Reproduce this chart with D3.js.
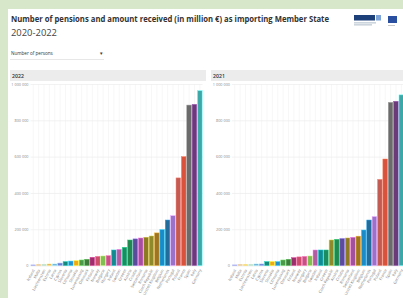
<!DOCTYPE html>
<html>
<head>
<meta charset="utf-8">
<script src="https://cdn.jsdelivr.net/npm/d3@7"></script>
<style>
  html, body { margin: 0; padding: 0; background: #d7e7c9; overflow: hidden; }
  svg { display: block; }
</style>
</head>
<body>
<svg id="chart" width="403" height="298"></svg>
<script>
// ---- data ----
const title = "Number of pensions and amount received (in million €) as importing Member State";
const subtitle = "2020-2022";
const measure = "Number of persons";
const years = ["2022", "2021"];

const countries2022 = ["Iceland", "Malta", "Liechtenstein", "Estonia", "Latvia", "Cyprus", "Slovenia",
  "Lithuania", "Slovakia", "Luxembourg", "Denmark", "Finland", "Norway", "Bulgaria", "Hungary",
  "Ireland", "Sweden", "Greece", "Austria", "Croatia", "Switzerland", "Romania", "Czech Republic",
  "United Kingdom", "Belgium", "Netherlands", "Portugal", "Poland", "France", "Spain", "Italy", "Germany"];
const values2022 = [4000, 7000, 7000, 9000, 9000, 14000, 22000, 25000, 27000, 31000, 35000, 46000,
  51000, 53000, 55000, 86000, 90000, 101000, 141000, 147000, 152000, 156000, 163000, 180000,
  198000, 251000, 275000, 483000, 600000, 884000, 888000, 963000];

const countries2021 = ["Iceland", "Malta", "Estonia", "Liechtenstein", "Latvia", "Cyprus", "Slovenia",
  "Slovakia", "Lithuania", "Luxembourg", "Denmark", "Finland", "Norway", "Hungary", "Bulgaria",
  "Sweden", "Ireland", "Greece", "Czech Republic", "Austria", "Croatia", "Romania", "Switzerland",
  "United Kingdom", "Belgium", "Netherlands", "Portugal", "Poland", "France", "Spain", "Italy", "Germany"];
const values2021 = [4000, 7000, 7000, 7000, 9000, 9000, 22000, 22000, 22000, 31000, 35000, 44000,
  48000, 51000, 53000, 86000, 86000, 86000, 141000, 145000, 149000, 152000, 156000, 162000,
  196000, 251000, 270000, 475000, 587000, 899000, 905000, 940000];

// one colour per country, same in both panels
const palette = ["#7b80cf", "#c99a78", "#8fae98", "#e9a456", "#6ea3d2", "#6d7fd3", "#14897c",
  "#2490cf", "#efa91c", "#4c9a49", "#3e7c3c", "#9a2f6b", "#cc4d6c", "#82bf52", "#c75282",
  "#138a90", "#b25ba2", "#1b8b62", "#21894f", "#5b4b9b", "#a2519c", "#8c7b24", "#8e8a2c",
  "#9c7424", "#1b8bc8", "#216c9b", "#9b72c9", "#c25b52", "#d9523c", "#6b6b6b", "#6b3b79", "#3ca9a8"];

const yTicks = [0, 200000, 400000, 600000, 800000, 1000000];

// ---- drawing ----
const W = 403, H = 298;
const svg = d3.select("#chart");
const font = "'Open Sans', sans-serif";

const color = d3.scaleOrdinal().domain(countries2022).range(palette);
const fmt = d3.formatLocale({ decimal: ",", thousands: " ", grouping: [3], currency: ["", "€"] }).format(",d");

// white card
svg.append("rect").attr("x", 8).attr("y", 9).attr("width", W).attr("height", H)
  .attr("fill", "#fff");

svg.append("text")
  .attr("x", 11).attr("y", 22)
  .attr("font-family", font).attr("font-weight", 700).attr("font-size", 9.6)
  .attr("textLength", 318).attr("lengthAdjust", "spacingAndGlyphs")
  .attr("fill", "#333").text(title);

svg.append("text")
  .attr("x", 11).attr("y", 36)
  .attr("font-family", font).attr("font-size", 9.5)
  .attr("textLength", 46).attr("lengthAdjust", "spacingAndGlyphs")
  .attr("fill", "#444").text(subtitle);

// logos (rough)
const logo = svg.append("g").attr("transform", "translate(354,15)");
logo.append("rect").attr("width", 21).attr("height", 5.5).attr("fill", "#1d3f7a");
logo.append("rect").attr("x", 22).attr("width", 5).attr("height", 5.5).attr("fill", "#7ea4d8");
logo.append("rect").attr("y", 7.5).attr("width", 22).attr("height", 0.8).attr("fill", "#9ab");
logo.append("rect").attr("y", 9.5).attr("width", 18).attr("height", 0.8).attr("fill", "#9ab");
logo.append("rect").attr("x", 34).attr("y", 1).attr("width", 9).attr("height", 7).attr("fill", "#2a4ea0");
logo.append("rect").attr("x", 34).attr("y", 10).attr("width", 7).attr("height", 0.8).attr("fill", "#bbb");

// dropdown
svg.append("text")
  .attr("x", 11).attr("y", 54.5)
  .attr("font-family", font).attr("font-size", 4.6).attr("fill", "#333").text(measure);
svg.append("text")
  .attr("x", 99).attr("y", 54.5)
  .attr("font-family", font).attr("font-size", 4.6).attr("fill", "#444").text("▼");
svg.append("line")
  .attr("x1", 10).attr("x2", 104).attr("y1", 59.5).attr("y2", 59.5)
  .attr("stroke", "#ddd").attr("stroke-width", 0.7);

const panels = [
  { year: years[0], names: countries2022, values: values2022, left: 10, right: 206, plotL: 30.5, plotR: 202.5 },
  { year: years[1], names: countries2021, values: values2021, left: 211, right: 410, plotL: 232, plotR: 404 }
];

const y = d3.scaleLinear().domain([0, 1000000]).range([265.6, 84]);

panels.forEach(p => {
  const g = svg.append("g");

  // header strip
  g.append("rect")
    .attr("x", p.left).attr("y", 70).attr("width", p.right - p.left).attr("height", 11)
    .attr("fill", "#ececec");
  g.append("text")
    .attr("x", p.left + 2).attr("y", 77.8)
    .attr("font-family", font).attr("font-size", 5.2).attr("font-weight", 600)
    .attr("fill", "#333").text(p.year);

  const x = d3.scaleBand().domain(p.names).range([p.plotL, p.plotR]).paddingInner(0.14).paddingOuter(0.07);

  // vertical grid at each band
  g.append("g").selectAll("line")
    .data(p.names)
    .join("line")
    .attr("x1", d => x(d) + x.bandwidth() / 2).attr("x2", d => x(d) + x.bandwidth() / 2)
    .attr("y1", y(1000000)).attr("y2", y(0))
    .attr("stroke", "#f1f1f1").attr("stroke-width", 0.6);

  // y axis
  const yAxis = g.append("g")
    .attr("transform", `translate(${p.plotL},0)`)
    .call(d3.axisLeft(y).tickValues(yTicks).tickFormat(fmt).tickSize(-(p.plotR - p.plotL)).tickPadding(2));
  yAxis.select(".domain").remove();
  yAxis.selectAll(".tick line").attr("stroke", "#ececec").attr("stroke-width", 0.7);
  yAxis.selectAll(".tick text")
    .attr("font-family", font).attr("font-size", 3.8).attr("fill", "#888");

  // bars
  g.append("g").selectAll("rect")
    .data(p.names.map((n, i) => ({ name: n, value: p.values[i] })))
    .join("rect")
    .attr("x", d => x(d.name))
    .attr("width", x.bandwidth())
    .attr("y", d => y(d.value))
    .attr("height", d => y(0) - y(d.value))
    .attr("fill", d => color(d.name))
    .attr("stroke", d => d3.color(color(d.name)).brighter(1.2))
    .attr("stroke-width", 0.5);

  // x labels
  const xAxis = g.append("g")
    .attr("transform", `translate(0,${y(0)})`)
    .call(d3.axisBottom(x).tickSize(0).tickPadding(2));
  xAxis.select(".domain").remove();
  xAxis.selectAll(".tick text")
    .attr("font-family", font).attr("font-size", 3.8).attr("fill", "#777")
    .attr("text-anchor", "end")
    .attr("dy", "0.3em")
    .attr("transform", "translate(-1,3) rotate(-62)");
});
</script>
</body>
</html>
